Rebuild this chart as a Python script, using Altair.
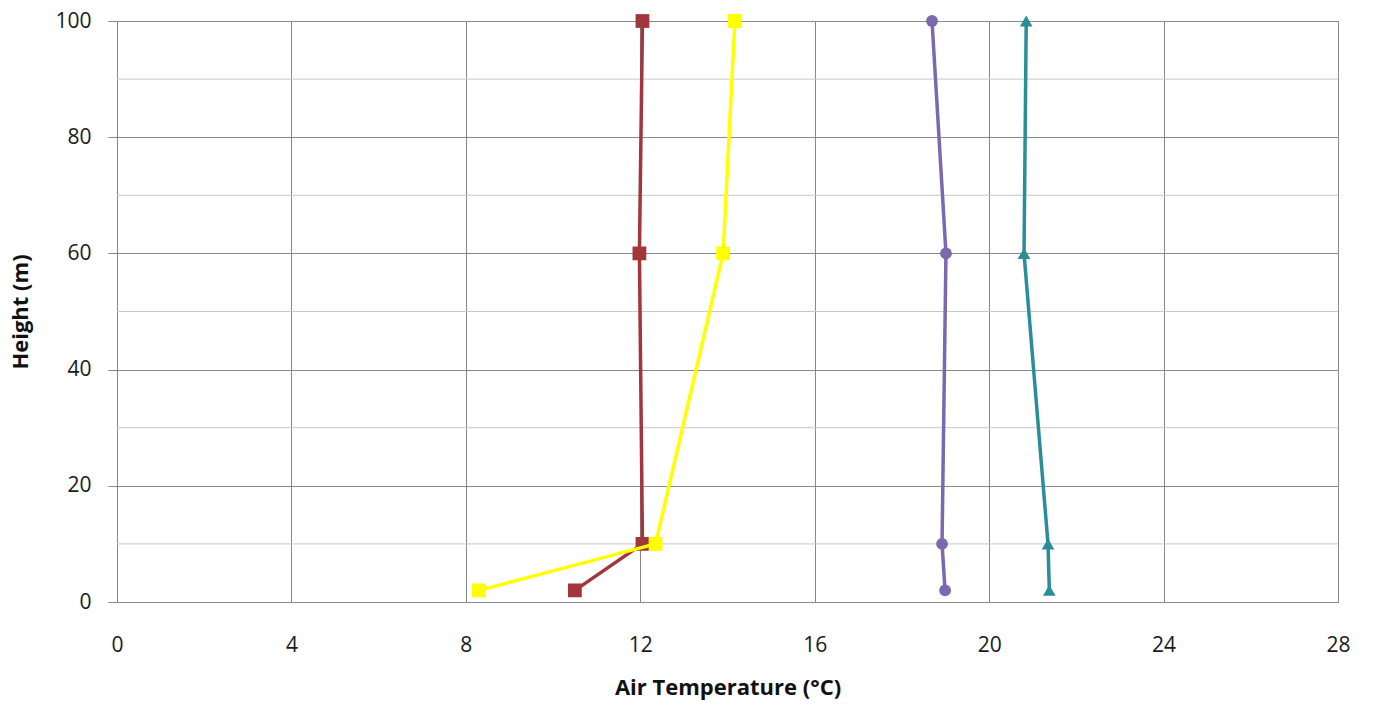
import altair as alt
import pandas as pd

heights = [2, 10, 60, 100]
red_temp = [10.5, 12.05, 11.98, 12.05]
yellow_temp = [8.3, 12.35, 13.9, 14.17]
purple_temp = [18.99, 18.92, 19.01, 18.69]
teal_temp = [21.38, 21.35, 20.8, 20.85]

series_names = ["Red", "Yellow", "Purple", "Teal"]
series_vals = [red_temp, yellow_temp, purple_temp, teal_temp]
series_colors = ["#A3363C", "#FFFF00", "#7B68AE", "#2A8E99"]
series_shapes = ["square", "square", "circle", "triangle-up"]
series_sizes = [190, 190, 140, 160]

x_ticks = [0, 4, 8, 12, 16, 20, 24, 28]
y_ticks = [0, 20, 40, 60, 80, 100]
y_minor = [10, 30, 50, 70, 90]

rows = []
for n, vals in zip(series_names, series_vals):
    for h, t in zip(heights, vals):
        rows.append({"series": n, "temp": t, "height": h})
df = pd.DataFrame(rows)

FONT = "Open Sans"

xscale = alt.Scale(domain=[0, 28], nice=False, zero=False)
yscale = alt.Scale(domain=[0, 100], nice=False)

minor = alt.Chart(pd.DataFrame({"y": y_minor})).mark_rule(color="#c8c8c8", strokeWidth=1).encode(
    y=alt.Y("y:Q", scale=yscale)
)

base = alt.Chart(df).encode(
    x=alt.X("temp:Q", scale=xscale,
            axis=alt.Axis(values=x_ticks, title="Air Temperature (°C)", ticks=False,
                          labelFlush=False, labelPadding=32, titlePadding=22, grid=True)),
    y=alt.Y("height:Q", scale=yscale,
            axis=alt.Axis(values=y_ticks, title="Height (m)", tickSize=9,
                          labelFlush=False, labelPadding=17, titlePadding=22, grid=True)),
)

layers = [minor]
for n, c, s, sz in zip(series_names, series_colors, series_shapes, series_sizes):
    sub = base.transform_filter(alt.datum.series == n)
    layers.append(sub.mark_line(color=c, strokeWidth=3.5).encode(order="height:Q"))
    layers.append(sub.mark_point(color=c, shape=s, filled=True, opacity=1, size=sz))

chart = alt.layer(*layers).properties(
    width=1221, height=581,
    autosize=alt.AutoSizeParams(type="none"),
    padding={"left": 117, "top": 21, "right": 35, "bottom": 109},
    background="white",
).configure_axis(
    labelFont=FONT, titleFont=FONT, labelFontSize=21, titleFontSize=22,
    labelColor="#1a1a1a", titleColor="#111", titleFontWeight="bold",
    gridColor="#8a8a8a", gridWidth=1, domainColor="#8a8a8a", tickColor="#8a8a8a",
).configure_view(stroke="#8a8a8a", strokeWidth=1)

chart.save("out.html", embed_options={"renderer": "svg", "actions": False})
